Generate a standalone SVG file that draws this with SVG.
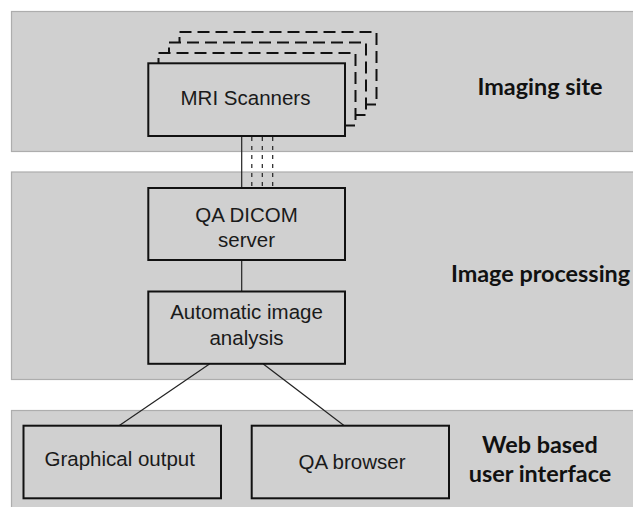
<svg xmlns="http://www.w3.org/2000/svg" width="633" height="507" viewBox="0 0 633 507">
  <style>
    .band { fill: #d0d0d0; stroke: #adadad; stroke-width: 1.2; }
    .box { fill: #d0d0d0; stroke: #111; stroke-width: 2; }
    .stack { fill: #d0d0d0; stroke: #111; stroke-width: 2; stroke-dasharray: 12 6; }
    .lbl { font-family: "Liberation Sans", Arial, sans-serif; font-size: 20.5px; fill: #1a1a1a; text-anchor: middle; }
    .tier { font-family: Lato, "Open Sans", sans-serif; font-weight: bold; font-size: 23.4px; fill: #111; text-anchor: middle; }
    .wire { stroke: #222; stroke-width: 1.2; fill: none; }
    .wire-dash { stroke: #222; stroke-width: 1.2; fill: none; stroke-dasharray: 4 5; }
  </style>
  <rect width="633" height="507" fill="#fff"/>

  <!-- tier bands -->
  <g id="bands">
    <rect class="band" x="11.5" y="11.5" width="630" height="140"/>
    <rect class="band" x="11.5" y="172" width="630" height="207.5"/>
    <rect class="band" x="11.5" y="410.5" width="630" height="110"/>
  </g>

  <!-- tier titles -->
  <g id="tier-labels">
    <text class="tier" x="540" y="95">Imaging site</text>
    <text class="tier" x="540.5" y="282">Image processing</text>
    <text class="tier" x="540" y="453">Web based</text>
    <text class="tier" x="540" y="481.5">user interface</text>
  </g>

  <!-- connectors -->
  <g id="connectors">
    <line class="wire" x1="241.7" y1="136" x2="241.7" y2="188"/>
    <line class="wire-dash" x1="251.8" y1="137" x2="251.8" y2="188"/>
    <line class="wire-dash" x1="262.3" y1="137" x2="262.3" y2="188"/>
    <line class="wire-dash" x1="272.7" y1="137" x2="272.7" y2="188"/>
    <line class="wire" x1="241.7" y1="260" x2="241.7" y2="291"/>
    <line class="wire" x1="209.5" y1="364" x2="119" y2="425.7"/>
    <line class="wire" x1="263.3" y1="364" x2="344.3" y2="425.7"/>
  </g>

  <g id="mri-scanners">
    <rect class="stack" x="179.5" y="32" width="197" height="72.5"/>
    <rect class="stack" x="169" y="42.5" width="197" height="72.5"/>
    <rect class="stack" x="158.5" y="53" width="197" height="72.5"/>
    <rect class="box" x="148.3" y="63.3" width="196.7" height="72.7"/>
    <text class="lbl" x="245.5" y="105">MRI Scanners</text>
  </g>

  <g id="qa-dicom-server">
    <rect class="box" x="148.3" y="188" width="196.7" height="72"/>
    <text class="lbl" x="246.5" y="221.7">QA DICOM</text>
    <text class="lbl" x="246.5" y="247">server</text>
  </g>

  <g id="image-analysis">
    <rect class="box" x="148.3" y="291.5" width="196.7" height="72.3"/>
    <text class="lbl" x="246.5" y="319.3">Automatic image</text>
    <text class="lbl" x="246.5" y="345">analysis</text>
  </g>

  <g id="graphical-output">
    <rect class="box" x="23.5" y="425.7" width="197.5" height="72.6"/>
    <text class="lbl" x="119.7" y="466">Graphical output</text>
  </g>

  <g id="qa-browser">
    <rect class="box" x="251.7" y="425.7" width="197.3" height="72.6"/>
    <text class="lbl" x="352" y="469">QA browser</text>
  </g>
</svg>
